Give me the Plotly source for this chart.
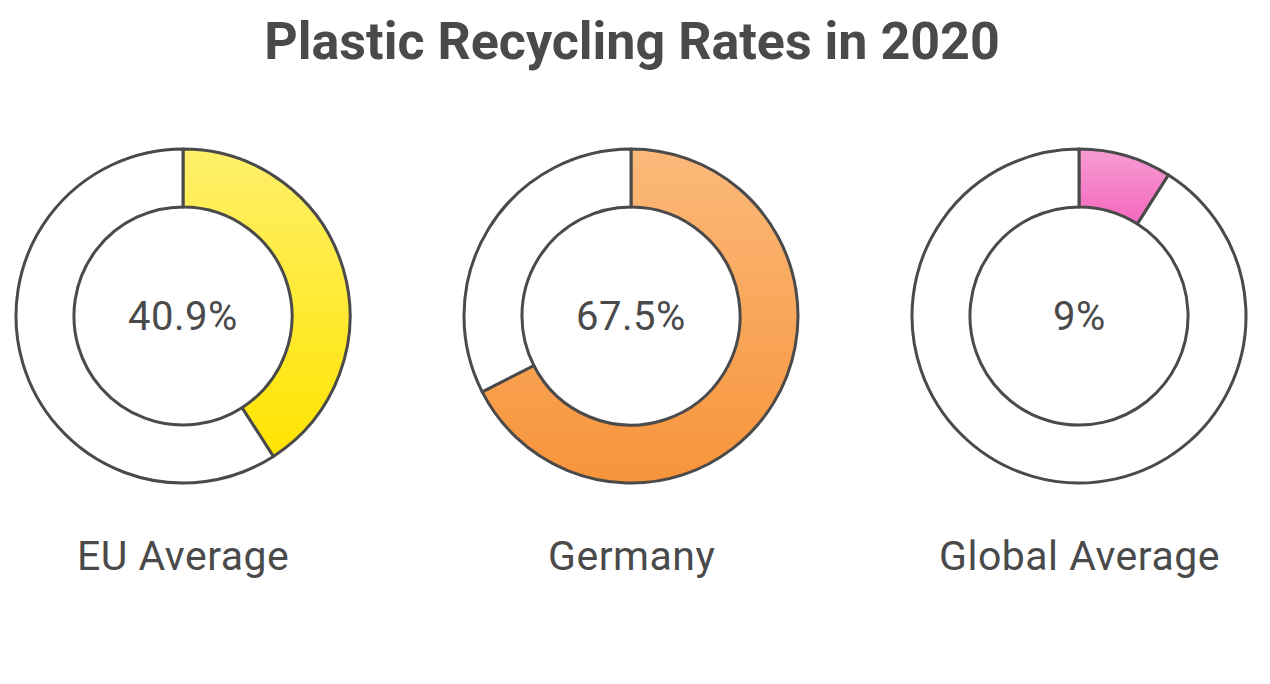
import base64
import math
import plotly.graph_objs as go

# 数据
categories = ["EU Average", "Germany", "Global Average"]
rates = [40.9, 67.5, 9]
rate_labels = ["40.9%", "67.5%", "9%"]
top_colors = ["#FFF06A", "#FBB97A", "#F79CD2"]
bottom_colors = ["#FFE400", "#F7943A", "#F467BF"]

# 页面 body 默认有 8px 边距
OFF = 8
W, H = 1270 - OFF, 684 - OFF
centers_x = [183, 631, 1079]
center_y = 316
label_y = 556
title_y = 41
R = 167
hole = 0.653
line_color = "#4a4a4a"
text_color = "#4a4a4a"


def px_x(px):
    return (px - OFF) / W


def px_y(py):
    return 1 - (py - OFF) / H


def spaced(text, spacing):
    return f'<span style="letter-spacing:{spacing}px">{text}</span>'


def ring_image(top, bottom, rate):
    #! 渐变覆盖彩色扇区的上下范围
    r = R * hole
    theta = math.radians(360 * rate / 100)
    if rate >= 50:
        y2 = 2 * R
    elif rate >= 25:
        y2 = R - R * math.cos(theta)
    else:
        y2 = R - r * math.cos(theta)
    svg = (
        f'<svg xmlns="http://www.w3.org/2000/svg" width="{2*R}" height="{2*R}" viewBox="0 0 {2*R} {2*R}">'
        f'<defs><linearGradient id="g" gradientUnits="userSpaceOnUse" x1="0" y1="0" x2="0" y2="{y2:.1f}">'
        f'<stop offset="0" stop-color="{top}"/><stop offset="1" stop-color="{bottom}"/></linearGradient></defs>'
        f'<path fill="url(#g)" fill-rule="evenodd" d="M {R} 0 A {R} {R} 0 1 1 {R} {2*R} A {R} {R} 0 1 1 {R} 0 Z '
        f'M {R} {R-r} A {r} {r} 0 1 0 {R} {R+r} A {r} {r} 0 1 0 {R} {R-r} Z"/></svg>'
    )
    return "data:image/svg+xml;base64," + base64.b64encode(svg.encode()).decode()


fig = go.Figure()
images = []
annotations = []
for i, cat in enumerate(categories):
    cx = centers_x[i]
    fig.add_trace(go.Pie(
        values=[rates[i], 100 - rates[i]],
        labels=[cat, "rest"],
        sort=False,
        direction="clockwise",
        rotation=0,
        hole=hole,
        textinfo="none",
        hoverinfo="skip",
        marker=dict(colors=["rgba(0,0,0,0)", "white"], line=dict(color=line_color, width=3)),
        domain=dict(x=[px_x(cx - R), px_x(cx + R)], y=[px_y(center_y + R), px_y(center_y - R)]),
        showlegend=False,
    ))
    images.append(dict(
        source=ring_image(top_colors[i], bottom_colors[i], rates[i]),
        xref="paper", yref="paper",
        x=px_x(cx - R), y=px_y(center_y - R),
        sizex=2 * R / W, sizey=2 * R / H,
        xanchor="left", yanchor="top",
        sizing="stretch", layer="below",
    ))
    annotations.append(dict(
        text=spaced(rate_labels[i], 0.5), x=px_x(cx), y=px_y(center_y),
        xref="paper", yref="paper", xanchor="center", yanchor="middle", showarrow=False,
        font=dict(family="Roboto", size=40, color=text_color),
    ))
    annotations.append(dict(
        text=spaced(cat, 0.5), x=px_x(cx), y=px_y(label_y),
        xref="paper", yref="paper", xanchor="center", yanchor="middle", showarrow=False,
        font=dict(family="Roboto", size=41, color=text_color),
    ))

fig.update_layout(
    width=W, height=H,
    margin=dict(l=0, r=0, t=0, b=0),
    paper_bgcolor="white",
    plot_bgcolor="white",
    title=dict(
        text="<b>Plastic Recycling Rates in 2020</b>",
        x=px_x(632), xanchor="center", y=px_y(title_y), yanchor="middle",
        font=dict(family="Roboto", size=52, color=text_color),
    ),
    images=images,
    annotations=annotations,
)

fig.write_html("out.html")
